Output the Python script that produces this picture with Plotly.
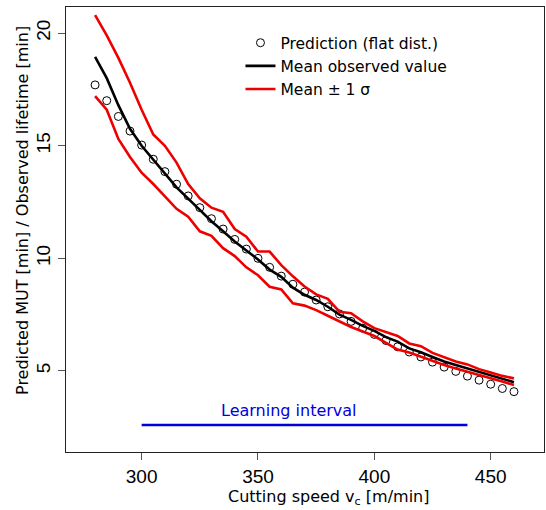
import plotly.graph_objects as go

speed = list(range(280, 461, 5))

prediction = [17.7, 17.0, 16.3, 15.65, 15.03, 14.4, 13.85, 13.29, 12.77, 12.25,
              11.76, 11.3, 10.84, 10.41, 10.0, 9.6, 9.21, 8.85, 8.5, 8.15,
              7.85, 7.53, 7.2, 6.9, 6.62, 6.35, 6.07, 5.84, 5.62, 5.39,
              5.17, 4.98, 4.77, 4.59, 4.41, 4.22, 4.08]

mean_obs = [18.95, 18.0, 16.8, 15.75, 15.0, 14.4, 13.75, 13.15, 12.65, 12.15,
            11.65, 11.2, 10.75, 10.35, 9.95, 9.5, 9.18, 8.7, 8.38, 8.15,
            7.85, 7.5, 7.27, 7.0, 6.78, 6.5, 6.3, 6.0, 5.83, 5.62,
            5.42, 5.26, 5.11, 4.94, 4.78, 4.64, 4.5]

upper = [20.8, 19.9, 18.9, 17.8, 16.6, 15.5, 15.0, 14.25, 13.3, 12.67,
         12.25, 12.07, 11.3, 10.96, 10.3, 10.3, 9.7, 9.2, 8.75, 8.4,
         8.2, 7.63, 7.56, 7.2, 6.9, 6.72, 6.55, 6.22, 6.1, 5.8,
         5.6, 5.42, 5.29, 5.08, 4.93, 4.78, 4.67]

lower = [17.2, 16.6, 15.3, 14.5, 13.8, 13.3, 12.75, 12.2, 11.85, 11.2,
         11.0, 10.45, 10.1, 9.6, 9.25, 8.74, 8.62, 8.0, 7.9, 7.7,
         7.45, 7.2, 6.95, 6.75, 6.55, 6.25, 5.95, 5.82, 5.63, 5.42,
         5.26, 5.11, 4.97, 4.82, 4.68, 4.53, 4.37]

learning_x = [300, 440]
learning_y = [2.6, 2.6]

x_ticks = [300, 350, 400, 450]
y_ticks = [5, 10, 15, 20]

fig = go.Figure()

fig.add_trace(go.Scatter(
    x=speed, y=prediction, mode="markers", name="Prediction (flat dist.)",
    marker=dict(symbol="circle-open", size=8, color="black", line=dict(width=1, color="black")),
))
fig.add_trace(go.Scatter(
    x=speed, y=mean_obs, mode="lines", name="Mean observed value",
    line=dict(color="black", width=2.6),
))
fig.add_trace(go.Scatter(
    x=speed, y=upper, mode="lines", name="Mean \u00b1 1 \u03c3",
    line=dict(color="#ee0000", width=2.6), legendgroup="sd",
))
fig.add_trace(go.Scatter(
    x=speed, y=lower, mode="lines", name="Mean \u00b1 1 \u03c3", showlegend=False,
    line=dict(color="#ee0000", width=2.6), legendgroup="sd",
))
fig.add_trace(go.Scatter(
    x=learning_x, y=learning_y, mode="lines", showlegend=False,
    line=dict(color="#0000dd", width=2.6),
))

fig.add_annotation(x=363.4, y=3.25, xref="x", yref="y", text="Learning interval",
                   showarrow=False, font=dict(family="DejaVu Sans", size=16, color="#0000dd"))

fig.add_annotation(x=0, y=0.5416, xref="paper", yref="paper", xanchor="center", yanchor="middle",
                   xshift=-43, textangle=-90, showarrow=False,
                   text="Predicted MUT [min] / Observed lifetime [min]",
                   font=dict(family="DejaVu Sans", size=16, color="black"))
fig.add_annotation(x=380.5, y=0, xref="x", yref="paper", xanchor="center", yanchor="middle",
                   yshift=-45, showarrow=False,
                   text="Cutting speed v<sub>c</sub> [m/min]",
                   font=dict(family="DejaVu Sans", size=16, color="black"))

axis_common = dict(showline=True, mirror=True, linecolor="#222", linewidth=1,
                   ticks="outside", ticklen=7, tickcolor="#555", tickwidth=1,
                   showgrid=False, zeroline=False,
                   tickfont=dict(family="Liberation Sans", size=19, color="black"))

fig.update_xaxes(range=[267.5, 472.9], tickvals=x_ticks, **axis_common)
fig.update_yaxes(range=[1.40, 21.16], tickvals=y_ticks, tickangle=-90, **axis_common)

fig.update_layout(
    width=546, height=510,
    margin=dict(l=66, r=2, t=7, b=58),
    paper_bgcolor="white", plot_bgcolor="white",
    font=dict(family="DejaVu Sans", size=16, color="black"),
    showlegend=True,
    legend=dict(x=0.365, y=0.957, xanchor="left", yanchor="top",
                bgcolor="rgba(0,0,0,0)", borderwidth=0,
                font=dict(family="DejaVu Sans", size=15.5, color="black"),
                tracegroupgap=0, itemwidth=30),
)

fig.write_html("out.html")
